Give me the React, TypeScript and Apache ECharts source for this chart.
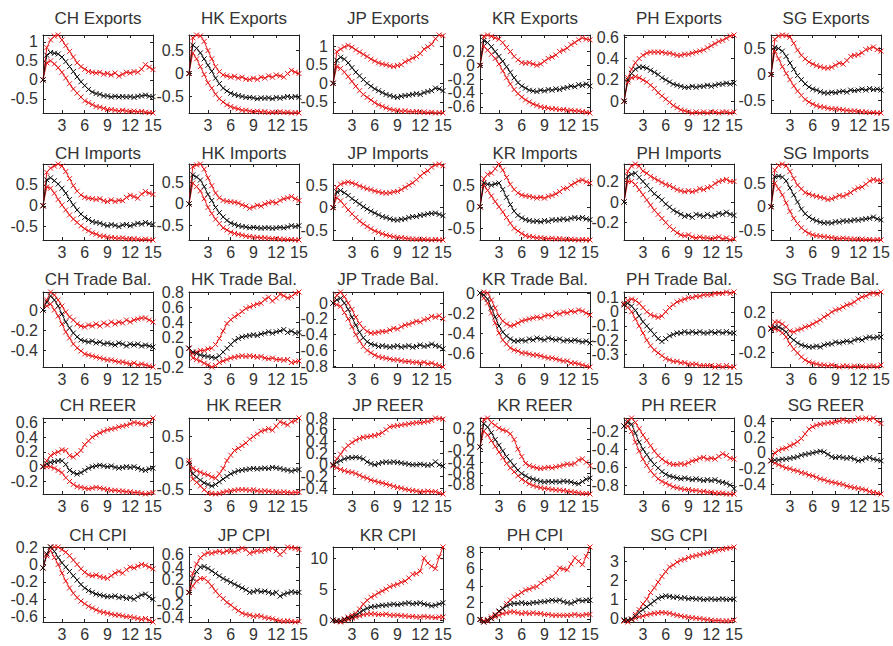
import React, { useEffect, useRef } from "react";
import * as echarts from "echarts";

// Horizon (x values) and x tick labels
const horizon = [0.5, 1, 1.5, 2, 2.5, 3, 3.5, 4, 4.5, 5, 5.5, 6, 6.5, 7, 7.5, 8, 8.5, 9, 9.5, 10, 10.5, 11, 11.5, 12, 12.5, 13, 13.5, 14, 14.5, 15];
const xTicks = [3, 6, 9, 12, 15];

// ---------- Exports ----------
const chExpTicks = [-0.5, 0, 0.5, 1];
const chExpUp = [0, 0.85, 1.05, 1.15, 1.18, 1.05, 0.9, 0.75, 0.6, 0.45, 0.35, 0.28, 0.22, 0.2, 0.18, 0.2, 0.15, 0.17, 0.13, 0.18, 0.1, 0.15, 0.2, 0.18, 0.22, 0.2, 0.28, 0.4, 0.33, 0.27];
const chExpMed = [0, 0.65, 0.72, 0.7, 0.68, 0.6, 0.48, 0.35, 0.22, 0.08, -0.05, -0.15, -0.25, -0.32, -0.36, -0.38, -0.42, -0.42, -0.45, -0.43, -0.45, -0.44, -0.45, -0.44, -0.46, -0.43, -0.42, -0.4, -0.43, -0.44];
const chExpLo = [0, 0.45, 0.5, 0.42, 0.32, 0.2, 0.05, -0.1, -0.24, -0.35, -0.45, -0.55, -0.6, -0.65, -0.7, -0.72, -0.75, -0.78, -0.78, -0.8, -0.82, -0.8, -0.82, -0.83, -0.82, -0.84, -0.83, -0.85, -0.86, -0.87];

const hkExpTicks = [-0.5, 0, 0.5];
const hkExpUp = [0, 0.78, 0.84, 0.82, 0.7, 0.5, 0.32, 0.15, 0.04, -0.03, -0.05, -0.08, -0.06, -0.1, -0.08, -0.12, -0.13, -0.1, -0.13, -0.08, -0.1, -0.05, -0.08, -0.03, -0.05, -0.08, 0.0, 0.07, 0.03, 0.0];
const hkExpMed = [0, 0.62, 0.55, 0.45, 0.32, 0.18, 0.05, -0.1, -0.22, -0.32, -0.38, -0.43, -0.46, -0.48, -0.5, -0.52, -0.52, -0.53, -0.55, -0.53, -0.54, -0.53, -0.55, -0.52, -0.54, -0.52, -0.5, -0.52, -0.5, -0.52];
const hkExpLo = [0, 0.45, 0.32, 0.15, -0.02, -0.2, -0.32, -0.45, -0.55, -0.62, -0.68, -0.72, -0.75, -0.77, -0.8, -0.8, -0.82, -0.83, -0.82, -0.84, -0.83, -0.85, -0.84, -0.85, -0.83, -0.85, -0.84, -0.86, -0.85, -0.86];

const jpExpTicks = [-0.5, 0, 0.5, 1];
const jpExpUp = [0, 0.85, 0.92, 0.98, 1.02, 0.97, 0.9, 0.84, 0.78, 0.72, 0.65, 0.6, 0.55, 0.52, 0.5, 0.47, 0.45, 0.48, 0.5, 0.58, 0.62, 0.68, 0.72, 0.8, 0.92, 0.98, 1.05, 1.2, 1.3, 1.28];
const jpExpMed = [0, 0.62, 0.7, 0.65, 0.55, 0.42, 0.3, 0.2, 0.1, 0.0, -0.08, -0.15, -0.2, -0.25, -0.3, -0.33, -0.36, -0.38, -0.35, -0.33, -0.32, -0.3, -0.28, -0.3, -0.25, -0.22, -0.2, -0.13, -0.15, -0.2];
const jpExpLo = [0, 0.45, 0.4, 0.3, 0.18, 0.05, -0.08, -0.2, -0.3, -0.38, -0.45, -0.52, -0.58, -0.62, -0.66, -0.7, -0.72, -0.73, -0.75, -0.74, -0.76, -0.77, -0.76, -0.78, -0.77, -0.79, -0.78, -0.8, -0.79, -0.8];

const krExpTicks = [-0.6, -0.4, -0.2, 0, 0.2];
const krExpUp = [0, 0.42, 0.44, 0.42, 0.4, 0.38, 0.33, 0.26, 0.2, 0.13, 0.08, 0.04, 0.03, 0.04, 0.02, 0.0, 0.02, 0.06, 0.1, 0.12, 0.15, 0.2, 0.22, 0.25, 0.3, 0.33, 0.37, 0.4, 0.38, 0.37];
const krExpMed = [0, 0.36, 0.33, 0.27, 0.2, 0.13, 0.06, -0.02, -0.1, -0.18, -0.25, -0.3, -0.33, -0.36, -0.37, -0.38, -0.36, -0.37, -0.35, -0.36, -0.34, -0.35, -0.33, -0.32, -0.3, -0.31, -0.28, -0.29, -0.27, -0.3];
const krExpLo = [0, 0.28, 0.22, 0.16, 0.1, 0.02, -0.08, -0.18, -0.27, -0.35, -0.41, -0.46, -0.5, -0.53, -0.56, -0.58, -0.6, -0.61, -0.62, -0.63, -0.63, -0.64, -0.64, -0.65, -0.65, -0.66, -0.66, -0.67, -0.68, -0.69];

const phExpTicks = [0, 0.2, 0.4, 0.6];
const phExpUp = [0, 0.22, 0.3, 0.36, 0.4, 0.43, 0.45, 0.46, 0.46, 0.46, 0.46, 0.45, 0.45, 0.44, 0.43, 0.43, 0.44, 0.44, 0.45, 0.46, 0.47, 0.48, 0.5, 0.52, 0.54, 0.56, 0.57, 0.59, 0.61, 0.62];
const phExpMed = [0, 0.2, 0.26, 0.3, 0.32, 0.32, 0.31, 0.29, 0.27, 0.25, 0.22, 0.2, 0.18, 0.16, 0.15, 0.14, 0.13, 0.13, 0.14, 0.13, 0.14, 0.14, 0.15, 0.14, 0.15, 0.16, 0.16, 0.17, 0.16, 0.17];
const phExpLo = [0, 0.18, 0.22, 0.23, 0.22, 0.2, 0.18, 0.15, 0.12, 0.08, 0.05, 0.02, -0.01, -0.04, -0.06, -0.08, -0.09, -0.1, -0.11, -0.1, -0.11, -0.1, -0.11, -0.1, -0.1, -0.11, -0.1, -0.1, -0.11, -0.1];

const sgExpTicks = [-0.5, 0, 0.5];
const sgExpUp = [0, 0.68, 0.74, 0.76, 0.75, 0.72, 0.6, 0.47, 0.37, 0.3, 0.24, 0.2, 0.17, 0.15, 0.13, 0.12, 0.14, 0.18, 0.22, 0.2, 0.27, 0.35, 0.37, 0.38, 0.42, 0.48, 0.5, 0.53, 0.48, 0.45];
const sgExpMed = [0, 0.52, 0.5, 0.45, 0.35, 0.22, 0.1, -0.02, -0.1, -0.18, -0.24, -0.28, -0.3, -0.33, -0.35, -0.36, -0.34, -0.35, -0.33, -0.32, -0.34, -0.3, -0.31, -0.3, -0.28, -0.3, -0.27, -0.29, -0.28, -0.3];
const sgExpLo = [0, 0.45, 0.3, 0.15, 0.02, -0.1, -0.22, -0.32, -0.4, -0.48, -0.53, -0.57, -0.6, -0.62, -0.63, -0.65, -0.66, -0.66, -0.67, -0.68, -0.69, -0.7, -0.7, -0.71, -0.72, -0.72, -0.73, -0.73, -0.74, -0.74];

// ---------- Imports ----------
const chImpTicks = [-0.5, 0, 0.5];
const chImpUp = [0, 0.8, 0.9, 0.95, 1.0, 0.95, 0.82, 0.65, 0.48, 0.35, 0.26, 0.2, 0.18, 0.17, 0.15, 0.17, 0.12, 0.1, 0.14, 0.1, 0.13, 0.12, 0.2, 0.25, 0.22, 0.18, 0.28, 0.34, 0.3, 0.27];
const chImpMed = [0, 0.62, 0.67, 0.6, 0.52, 0.42, 0.3, 0.15, 0.02, -0.1, -0.2, -0.28, -0.33, -0.38, -0.4, -0.42, -0.45, -0.48, -0.45, -0.47, -0.5, -0.46, -0.45, -0.48, -0.45, -0.42, -0.44, -0.4, -0.43, -0.45];
const chImpLo = [0, 0.45, 0.42, 0.3, 0.15, 0.02, -0.1, -0.22, -0.32, -0.4, -0.48, -0.55, -0.6, -0.65, -0.68, -0.72, -0.73, -0.75, -0.76, -0.77, -0.78, -0.77, -0.79, -0.8, -0.79, -0.8, -0.81, -0.8, -0.82, -0.82];

const hkImpTicks = [-0.5, 0, 0.5];
const hkImpUp = [0, 0.86, 0.9, 0.92, 0.8, 0.6, 0.42, 0.25, 0.14, 0.08, 0.06, 0.05, 0.04, 0.02, -0.02, -0.05, -0.1, -0.07, -0.03, -0.05, 0.0, 0.03, 0.05, 0.02, 0.08, 0.12, 0.14, 0.17, 0.12, 0.08];
const hkImpMed = [0, 0.67, 0.62, 0.55, 0.4, 0.22, 0.08, -0.08, -0.2, -0.3, -0.38, -0.44, -0.47, -0.5, -0.52, -0.53, -0.55, -0.54, -0.55, -0.56, -0.55, -0.55, -0.56, -0.55, -0.54, -0.55, -0.53, -0.5, -0.52, -0.5];
const hkImpLo = [0, 0.48, 0.4, 0.3, 0.12, -0.08, -0.22, -0.35, -0.45, -0.55, -0.6, -0.65, -0.68, -0.7, -0.72, -0.74, -0.75, -0.76, -0.77, -0.78, -0.78, -0.79, -0.8, -0.8, -0.81, -0.81, -0.82, -0.82, -0.83, -0.83];

const jpImpTicks = [-0.5, 0, 0.5];
const jpImpUp = [0, 0.45, 0.52, 0.55, 0.57, 0.55, 0.52, 0.48, 0.45, 0.42, 0.4, 0.37, 0.35, 0.33, 0.32, 0.33, 0.35, 0.36, 0.4, 0.45, 0.5, 0.55, 0.62, 0.7, 0.77, 0.82, 0.9, 0.95, 0.97, 0.93];
const jpImpMed = [0, 0.35, 0.38, 0.33, 0.27, 0.2, 0.14, 0.08, 0.02, -0.03, -0.08, -0.12, -0.16, -0.2, -0.22, -0.25, -0.27, -0.28, -0.26, -0.25, -0.22, -0.2, -0.2, -0.17, -0.16, -0.14, -0.13, -0.12, -0.15, -0.18];
const jpImpLo = [0, 0.22, 0.15, 0.05, -0.05, -0.14, -0.22, -0.3, -0.36, -0.42, -0.47, -0.52, -0.55, -0.58, -0.61, -0.63, -0.65, -0.66, -0.67, -0.68, -0.69, -0.7, -0.7, -0.71, -0.7, -0.71, -0.72, -0.71, -0.72, -0.72];

const krImpTicks = [-0.5, 0, 0.5];
const krImpUp = [0, 0.65, 0.75, 0.78, 0.88, 0.99, 0.85, 0.68, 0.52, 0.4, 0.32, 0.27, 0.25, 0.24, 0.22, 0.2, 0.22, 0.2, 0.24, 0.26, 0.3, 0.35, 0.42, 0.43, 0.5, 0.55, 0.6, 0.62, 0.58, 0.55];
const krImpMed = [0, 0.55, 0.52, 0.5, 0.53, 0.55, 0.4, 0.22, 0.05, -0.1, -0.2, -0.26, -0.3, -0.32, -0.34, -0.33, -0.35, -0.32, -0.34, -0.3, -0.31, -0.3, -0.28, -0.3, -0.27, -0.25, -0.27, -0.25, -0.28, -0.3];
const krImpLo = [0, 0.5, 0.38, 0.25, 0.12, 0.0, -0.12, -0.25, -0.38, -0.5, -0.56, -0.62, -0.67, -0.69, -0.7, -0.72, -0.72, -0.73, -0.74, -0.73, -0.75, -0.74, -0.75, -0.76, -0.75, -0.76, -0.77, -0.76, -0.77, -0.77];

const phImpTicks = [-0.2, 0, 0.2];
const phImpUp = [0, 0.3, 0.35, 0.37, 0.35, 0.3, 0.28, 0.25, 0.23, 0.21, 0.19, 0.17, 0.16, 0.14, 0.12, 0.11, 0.1, 0.11, 0.1, 0.11, 0.13, 0.12, 0.14, 0.15, 0.18, 0.2, 0.21, 0.22, 0.2, 0.2];
const phImpMed = [0, 0.25, 0.27, 0.28, 0.24, 0.2, 0.16, 0.12, 0.08, 0.05, 0.02, -0.02, -0.05, -0.08, -0.1, -0.12, -0.14, -0.13, -0.15, -0.12, -0.13, -0.14, -0.12, -0.14, -0.13, -0.11, -0.12, -0.1, -0.12, -0.13];
const phImpLo = [0, 0.2, 0.2, 0.17, 0.12, 0.07, 0.02, -0.03, -0.08, -0.12, -0.16, -0.2, -0.24, -0.27, -0.3, -0.32, -0.33, -0.32, -0.34, -0.35, -0.34, -0.35, -0.35, -0.36, -0.35, -0.34, -0.36, -0.35, -0.37, -0.36];

const sgImpTicks = [-0.5, 0, 0.5];
const sgImpUp = [0, 0.78, 0.88, 0.91, 0.87, 0.75, 0.6, 0.46, 0.38, 0.3, 0.27, 0.24, 0.22, 0.2, 0.18, 0.15, 0.17, 0.2, 0.24, 0.22, 0.26, 0.3, 0.36, 0.4, 0.42, 0.48, 0.55, 0.58, 0.56, 0.55];
const sgImpMed = [0, 0.64, 0.65, 0.63, 0.55, 0.4, 0.25, 0.1, -0.05, -0.15, -0.22, -0.27, -0.3, -0.33, -0.35, -0.34, -0.35, -0.32, -0.33, -0.3, -0.31, -0.3, -0.28, -0.29, -0.27, -0.26, -0.25, -0.22, -0.26, -0.28];
const sgImpLo = [0, 0.5, 0.38, 0.25, 0.08, -0.1, -0.25, -0.36, -0.45, -0.52, -0.57, -0.6, -0.62, -0.63, -0.64, -0.65, -0.66, -0.67, -0.68, -0.67, -0.68, -0.69, -0.69, -0.7, -0.69, -0.7, -0.7, -0.71, -0.7, -0.71];

// ---------- Trade balance ----------
const chTbTicks = [-0.4, -0.2, 0];
const chTbUp = [0, 0.1, 0.18, 0.15, 0.1, 0.04, -0.02, -0.07, -0.1, -0.14, -0.16, -0.17, -0.15, -0.16, -0.14, -0.16, -0.13, -0.15, -0.12, -0.14, -0.12, -0.13, -0.1, -0.12, -0.1, -0.09, -0.08, -0.08, -0.1, -0.12];
const chTbMed = [0, 0.08, 0.14, 0.1, 0.04, -0.04, -0.12, -0.18, -0.23, -0.27, -0.3, -0.31, -0.32, -0.31, -0.33, -0.32, -0.34, -0.33, -0.34, -0.35, -0.33, -0.34, -0.36, -0.34, -0.35, -0.34, -0.36, -0.35, -0.36, -0.37];
const chTbLo = [0, 0.04, 0.06, 0.0, -0.06, -0.14, -0.22, -0.28, -0.34, -0.38, -0.41, -0.44, -0.45, -0.46, -0.47, -0.48, -0.49, -0.5, -0.5, -0.51, -0.52, -0.52, -0.53, -0.54, -0.53, -0.55, -0.54, -0.55, -0.56, -0.57];

const hkTbTicks = [-0.2, 0, 0.2, 0.4, 0.6, 0.8];
const hkTbUp = [0.05, -0.02, 0.0, 0.02, 0.02, 0.04, 0.05, 0.1, 0.18, 0.28, 0.38, 0.43, 0.47, 0.5, 0.54, 0.58, 0.6, 0.62, 0.64, 0.65, 0.7, 0.73, 0.68, 0.72, 0.77, 0.75, 0.72, 0.74, 0.78, 0.8];
const hkTbMed = [0.05, 0.0, -0.02, -0.04, -0.05, -0.06, -0.07, -0.08, -0.05, 0.0, 0.05, 0.1, 0.15, 0.18, 0.2, 0.21, 0.22, 0.23, 0.22, 0.24, 0.25, 0.27, 0.25, 0.27, 0.28, 0.3, 0.26, 0.28, 0.25, 0.26];
const hkTbLo = [0.05, -0.08, -0.1, -0.12, -0.15, -0.17, -0.2, -0.18, -0.14, -0.12, -0.1, -0.08, -0.07, -0.06, -0.05, -0.06, -0.05, -0.06, -0.07, -0.06, -0.08, -0.09, -0.08, -0.1, -0.1, -0.11, -0.1, -0.14, -0.13, -0.12];

const jpTbTicks = [-0.8, -0.6, -0.4, -0.2, 0];
const jpTbUp = [0, 0.1, 0.14, 0.08, 0.0, -0.08, -0.18, -0.26, -0.32, -0.36, -0.38, -0.38, -0.37, -0.36, -0.36, -0.34, -0.32, -0.33, -0.3, -0.28, -0.27, -0.25, -0.23, -0.24, -0.21, -0.2, -0.17, -0.18, -0.16, -0.2];
const jpTbMed = [0, 0.04, 0.06, 0.0, -0.08, -0.18, -0.28, -0.37, -0.44, -0.49, -0.52, -0.53, -0.55, -0.54, -0.55, -0.56, -0.55, -0.54, -0.56, -0.55, -0.54, -0.56, -0.55, -0.53, -0.55, -0.54, -0.52, -0.54, -0.55, -0.58];
const jpTbLo = [0, -0.02, -0.04, -0.12, -0.2, -0.3, -0.4, -0.48, -0.55, -0.6, -0.63, -0.66, -0.68, -0.69, -0.7, -0.71, -0.72, -0.72, -0.73, -0.74, -0.74, -0.75, -0.75, -0.76, -0.75, -0.77, -0.76, -0.78, -0.79, -0.81];

const krTbTicks = [-0.6, -0.4, -0.2, 0];
const krTbUp = [0.0, 0.01, 0.0, -0.07, -0.15, -0.23, -0.28, -0.31, -0.33, -0.32, -0.3, -0.28, -0.27, -0.26, -0.25, -0.24, -0.25, -0.23, -0.22, -0.23, -0.2, -0.21, -0.19, -0.2, -0.18, -0.19, -0.17, -0.18, -0.2, -0.22];
const krTbMed = [0.0, -0.02, -0.06, -0.15, -0.24, -0.33, -0.39, -0.43, -0.46, -0.48, -0.48, -0.47, -0.48, -0.46, -0.47, -0.45, -0.46, -0.47, -0.45, -0.46, -0.47, -0.46, -0.48, -0.47, -0.48, -0.47, -0.48, -0.49, -0.48, -0.5];
const krTbLo = [0.0, -0.05, -0.1, -0.2, -0.3, -0.4, -0.47, -0.51, -0.55, -0.57, -0.58, -0.6, -0.6, -0.61, -0.62, -0.62, -0.63, -0.64, -0.65, -0.65, -0.66, -0.67, -0.68, -0.68, -0.7, -0.7, -0.71, -0.72, -0.73, -0.74];

const phTbTicks = [-0.3, -0.2, -0.1, 0, 0.1];
const phTbUp = [0.06, 0.08, 0.09, 0.08, 0.06, 0.03, 0.0, -0.02, -0.03, -0.04, -0.03, 0.0, 0.03, 0.05, 0.07, 0.08, 0.09, 0.1, 0.1, 0.11, 0.11, 0.12, 0.12, 0.12, 0.13, 0.13, 0.13, 0.14, 0.13, 0.14];
const phTbMed = [0.05, 0.06, 0.04, 0.01, -0.03, -0.07, -0.1, -0.13, -0.16, -0.19, -0.21, -0.19, -0.17, -0.16, -0.15, -0.15, -0.14, -0.15, -0.14, -0.15, -0.14, -0.15, -0.15, -0.14, -0.15, -0.14, -0.15, -0.14, -0.15, -0.15];
const phTbLo = [0.05, 0.03, 0.0, -0.05, -0.1, -0.15, -0.2, -0.24, -0.27, -0.29, -0.31, -0.33, -0.34, -0.35, -0.35, -0.36, -0.36, -0.37, -0.37, -0.37, -0.38, -0.38, -0.38, -0.38, -0.39, -0.38, -0.39, -0.38, -0.39, -0.39];

const sgTbTicks = [-0.2, 0, 0.2];
const sgTbUp = [0.04, 0.1, 0.1, 0.08, 0.05, 0.01, 0.0, 0.02, 0.03, 0.05, 0.06, 0.08, 0.1, 0.12, 0.15, 0.17, 0.2, 0.22, 0.23, 0.25, 0.27, 0.28, 0.3, 0.33, 0.35, 0.36, 0.38, 0.39, 0.38, 0.4];
const sgTbMed = [0.03, 0.05, 0.05, 0.03, 0.0, -0.05, -0.08, -0.11, -0.13, -0.14, -0.15, -0.15, -0.14, -0.15, -0.13, -0.12, -0.12, -0.1, -0.11, -0.1, -0.09, -0.1, -0.08, -0.07, -0.08, -0.06, -0.05, -0.06, -0.05, -0.05];
const sgTbLo = [0.03, 0.03, 0.02, -0.01, -0.05, -0.12, -0.17, -0.21, -0.25, -0.28, -0.3, -0.31, -0.32, -0.33, -0.33, -0.34, -0.33, -0.34, -0.35, -0.34, -0.34, -0.35, -0.34, -0.35, -0.34, -0.35, -0.34, -0.34, -0.35, -0.33];

// ---------- REER ----------
const chReTicks = [-0.2, 0, 0.2, 0.4, 0.6];
const chReUp = [0.0, 0.08, 0.15, 0.18, 0.2, 0.23, 0.22, 0.15, 0.13, 0.17, 0.22, 0.3, 0.35, 0.4, 0.43, 0.46, 0.48, 0.5, 0.51, 0.52, 0.54, 0.55, 0.56, 0.58, 0.6, 0.59, 0.58, 0.57, 0.6, 0.66];
const chReMed = [0.0, 0.04, 0.06, 0.07, 0.08, 0.08, 0.03, -0.05, -0.08, -0.1, -0.08, -0.05, -0.02, 0.0, 0.01, 0.02, 0.01, 0.0, 0.01, -0.01, -0.02, -0.01, 0.0, -0.01, 0.0, -0.02, -0.04, -0.05, -0.03, -0.02];
const chReLo = [0.0, 0.0, 0.0, -0.02, -0.05, -0.08, -0.15, -0.2, -0.24, -0.27, -0.28, -0.29, -0.3, -0.29, -0.28, -0.29, -0.3, -0.31, -0.32, -0.32, -0.33, -0.33, -0.34, -0.34, -0.35, -0.35, -0.36, -0.37, -0.36, -0.35];

const hkReTicks = [-0.5, 0, 0.5];
const hkReUp = [0.05, -0.1, -0.14, -0.17, -0.2, -0.22, -0.26, -0.28, -0.2, -0.1, 0.05, 0.15, 0.24, 0.28, 0.33, 0.38, 0.45, 0.5, 0.55, 0.6, 0.62, 0.65, 0.62, 0.7, 0.78, 0.75, 0.72, 0.78, 0.8, 0.85];
const hkReMed = [0.0, -0.2, -0.26, -0.32, -0.37, -0.4, -0.43, -0.4, -0.35, -0.3, -0.25, -0.2, -0.17, -0.14, -0.13, -0.12, -0.11, -0.1, -0.11, -0.1, -0.09, -0.1, -0.08, -0.09, -0.1, -0.12, -0.13, -0.15, -0.13, -0.12];
const hkReLo = [0.0, -0.3, -0.36, -0.43, -0.5, -0.56, -0.57, -0.58, -0.57, -0.55, -0.53, -0.52, -0.51, -0.5, -0.5, -0.5, -0.51, -0.5, -0.52, -0.53, -0.52, -0.53, -0.54, -0.54, -0.55, -0.54, -0.55, -0.56, -0.55, -0.55];

const jpReTicks = [-0.4, -0.2, 0, 0.2, 0.4, 0.6, 0.8];
const jpReUp = [-0.02, 0.1, 0.18, 0.27, 0.33, 0.38, 0.42, 0.45, 0.47, 0.48, 0.49, 0.5, 0.52, 0.55, 0.6, 0.65, 0.66, 0.67, 0.68, 0.69, 0.7, 0.71, 0.72, 0.72, 0.73, 0.74, 0.76, 0.8, 0.79, 0.78];
const jpReMed = [0.0, 0.04, 0.07, 0.1, 0.12, 0.12, 0.13, 0.12, 0.1, 0.05, 0.02, 0.0, 0.02, 0.04, 0.05, 0.04, 0.05, 0.04, 0.03, 0.02, 0.01, 0.0, 0.0, 0.01, 0.0, -0.01, 0.0, 0.05, 0.0, -0.02];
const jpReLo = [0.0, -0.05, -0.08, -0.1, -0.12, -0.13, -0.15, -0.18, -0.21, -0.23, -0.26, -0.28, -0.3, -0.31, -0.33, -0.35, -0.37, -0.39, -0.4, -0.42, -0.43, -0.44, -0.45, -0.46, -0.46, -0.45, -0.46, -0.46, -0.48, -0.5];

const krReTicks = [-0.8, -0.6, -0.4, -0.2, 0, 0.2, 0.4];
const krReUp = [-0.13, 0.35, 0.38, 0.3, 0.25, 0.2, 0.17, 0.15, 0.1, 0.0, -0.17, -0.3, -0.42, -0.46, -0.48, -0.5, -0.51, -0.5, -0.49, -0.5, -0.48, -0.47, -0.45, -0.43, -0.44, -0.42, -0.36, -0.34, -0.4, -0.46];
const krReMed = [-0.13, 0.28, 0.22, 0.12, 0.0, -0.1, -0.2, -0.3, -0.38, -0.46, -0.54, -0.6, -0.64, -0.68, -0.7, -0.72, -0.74, -0.75, -0.74, -0.75, -0.74, -0.75, -0.73, -0.74, -0.75, -0.77, -0.78, -0.74, -0.7, -0.68];
const krReLo = [-0.13, 0.15, 0.08, -0.02, -0.12, -0.22, -0.32, -0.42, -0.5, -0.57, -0.64, -0.7, -0.74, -0.78, -0.81, -0.83, -0.85, -0.86, -0.87, -0.88, -0.89, -0.89, -0.9, -0.91, -0.92, -0.93, -0.94, -0.95, -0.95, -0.96];

const phReTicks = [-0.8, -0.6, -0.4, -0.2];
const phReUp = [-0.14, -0.08, -0.05, -0.1, -0.17, -0.24, -0.3, -0.36, -0.42, -0.47, -0.51, -0.54, -0.56, -0.57, -0.57, -0.56, -0.57, -0.55, -0.53, -0.52, -0.5, -0.49, -0.51, -0.5, -0.51, -0.48, -0.45, -0.47, -0.5, -0.51];
const phReMed = [-0.14, -0.1, -0.12, -0.22, -0.32, -0.4, -0.46, -0.52, -0.57, -0.61, -0.65, -0.68, -0.7, -0.71, -0.72, -0.73, -0.72, -0.73, -0.74, -0.73, -0.74, -0.75, -0.74, -0.75, -0.74, -0.76, -0.77, -0.78, -0.8, -0.84];
const phReLo = [-0.14, -0.14, -0.2, -0.32, -0.42, -0.51, -0.58, -0.64, -0.69, -0.73, -0.76, -0.78, -0.8, -0.82, -0.83, -0.84, -0.85, -0.85, -0.86, -0.86, -0.87, -0.87, -0.88, -0.88, -0.89, -0.89, -0.89, -0.9, -0.9, -0.9];

const sgReTicks = [-0.4, -0.2, 0, 0.2, 0.4];
const sgReUp = [-0.1, 0.0, 0.03, 0.05, 0.06, 0.09, 0.11, 0.14, 0.18, 0.24, 0.3, 0.33, 0.35, 0.36, 0.37, 0.38, 0.38, 0.39, 0.4, 0.42, 0.4, 0.4, 0.41, 0.44, 0.43, 0.44, 0.42, 0.44, 0.4, 0.37];
const sgReMed = [-0.1, -0.09, -0.09, -0.08, -0.08, -0.07, -0.06, -0.05, -0.03, -0.02, -0.01, 0.0, 0.01, 0.02, 0.01, -0.02, -0.05, -0.06, -0.05, -0.06, -0.07, -0.06, -0.08, -0.1, -0.09, -0.07, -0.06, -0.08, -0.09, -0.1];
const sgReLo = [-0.1, -0.13, -0.15, -0.17, -0.19, -0.2, -0.22, -0.23, -0.25, -0.26, -0.28, -0.29, -0.31, -0.33, -0.34, -0.36, -0.37, -0.38, -0.39, -0.4, -0.42, -0.43, -0.44, -0.45, -0.46, -0.47, -0.49, -0.5, -0.51, -0.52];

// ---------- CPI ----------
const chCpiTicks = [-0.6, -0.4, -0.2, 0, 0.2];
const chCpiUp = [-0.04, 0.12, 0.2, 0.2, 0.2, 0.17, 0.14, 0.1, 0.05, 0.0, -0.05, -0.09, -0.12, -0.13, -0.12, -0.14, -0.15, -0.16, -0.13, -0.1, -0.08, -0.1, -0.06, -0.03, -0.04, -0.02, 0.0, -0.01, -0.03, -0.05];
const chCpiMed = [-0.04, 0.12, 0.2, 0.15, 0.08, 0.02, -0.03, -0.08, -0.13, -0.18, -0.23, -0.27, -0.3, -0.32, -0.34, -0.35, -0.36, -0.37, -0.37, -0.36, -0.38, -0.37, -0.39, -0.38, -0.4, -0.37, -0.35, -0.34, -0.37, -0.4];
const chCpiLo = [-0.04, 0.1, 0.16, 0.08, 0.0, -0.1, -0.19, -0.27, -0.33, -0.38, -0.42, -0.45, -0.48, -0.5, -0.52, -0.54, -0.55, -0.56, -0.57, -0.58, -0.58, -0.59, -0.6, -0.6, -0.61, -0.62, -0.63, -0.62, -0.64, -0.66];

const jpCpiTicks = [-0.4, -0.2, 0, 0.2, 0.4, 0.6];
const jpCpiUp = [0.0, 0.3, 0.45, 0.55, 0.6, 0.63, 0.62, 0.64, 0.65, 0.63, 0.66, 0.65, 0.64, 0.67, 0.7, 0.68, 0.62, 0.64, 0.66, 0.65, 0.67, 0.68, 0.7, 0.66, 0.6, 0.65, 0.72, 0.71, 0.7, 0.68];
const jpCpiMed = [0.0, 0.22, 0.33, 0.4, 0.41, 0.38, 0.34, 0.3, 0.26, 0.22, 0.19, 0.16, 0.13, 0.1, 0.07, 0.04, 0.0, 0.01, 0.03, 0.01, 0.02, 0.0, -0.02, 0.0, -0.06, -0.03, -0.01, 0.01, 0.0, 0.0];
const jpCpiLo = [0.0, 0.1, 0.18, 0.22, 0.22, 0.17, 0.1, 0.02, -0.05, -0.1, -0.16, -0.2, -0.25, -0.29, -0.33, -0.35, -0.36, -0.38, -0.37, -0.38, -0.4, -0.41, -0.42, -0.44, -0.45, -0.46, -0.45, -0.46, -0.47, -0.46];

const krCpiTicks = [0, 5, 10];
const krCpiUp = [0.0, -0.1, -0.2, 0.2, 0.5, 0.8, 1.1, 1.8, 2.6, 3.2, 3.7, 4.0, 4.4, 4.7, 5.0, 5.4, 5.6, 5.8, 6.1, 6.3, 6.8, 7.4, 7.5, 7.9, 10.0, 9.2, 8.7, 8.3, 10.2, 11.8];
const krCpiMed = [0.0, -0.1, -0.1, 0.1, 0.3, 0.5, 0.8, 1.2, 1.6, 1.9, 2.1, 2.2, 2.3, 2.4, 2.4, 2.5, 2.6, 2.5, 2.6, 2.7, 2.8, 2.6, 2.7, 2.8, 2.6, 2.5, 2.3, 2.4, 2.6, 2.8];
const krCpiLo = [0.0, -0.2, -0.3, -0.1, 0.1, 0.3, 0.5, 0.7, 0.9, 1.0, 1.0, 1.0, 0.9, 0.9, 1.0, 0.8, 0.8, 0.8, 0.7, 0.7, 0.6, 0.6, 0.5, 0.5, 0.6, 0.5, 0.5, 0.4, 0.5, 0.5];

const phCpiTicks = [0, 2, 4, 6, 8];
const phCpiUp = [0.0, -0.15, 0.0, 0.3, 0.6, 0.9, 1.3, 1.9, 2.3, 2.7, 2.9, 3.2, 3.5, 3.6, 3.8, 3.9, 4.3, 4.6, 4.9, 5.1, 5.5, 6.1, 6.0, 5.9, 6.6, 7.3, 6.9, 6.5, 7.5, 8.6];
const phCpiMed = [0.0, -0.3, -0.1, 0.1, 0.5, 1.0, 1.3, 1.6, 1.8, 1.9, 1.9, 2.0, 1.9, 1.9, 2.0, 2.0, 2.1, 2.1, 2.2, 2.3, 2.2, 2.3, 2.1, 2.0, 1.9, 2.1, 2.3, 2.2, 2.3, 2.3];
const phCpiLo = [0.0, -0.3, -0.2, 0.1, 0.3, 0.5, 0.7, 0.8, 0.9, 0.9, 0.8, 0.7, 0.8, 0.7, 0.8, 0.7, 0.7, 0.6, 0.6, 0.5, 0.5, 0.5, 0.5, 0.5, 0.5, 0.6, 0.5, 0.5, 0.6, 0.6];

const sgCpiTicks = [0, 1, 2, 3];
const sgCpiUp = [-0.15, -0.2, -0.05, 0.2, 0.45, 0.75, 1.0, 1.35, 1.6, 1.9, 2.2, 2.45, 2.7, 2.8, 2.95, 3.05, 3.1, 3.2, 3.25, 3.3, 3.35, 3.4, 3.45, 3.5, 3.55, 3.6, 3.62, 3.68, 3.7, 3.75];
const sgCpiMed = [-0.1, -0.1, -0.05, 0.1, 0.3, 0.45, 0.6, 0.75, 0.9, 1.05, 1.12, 1.18, 1.15, 1.1, 1.12, 1.05, 1.08, 1.02, 1.05, 1.0, 1.03, 0.98, 1.0, 1.02, 0.98, 1.0, 1.02, 0.99, 1.0, 1.0];
const sgCpiLo = [-0.1, -0.12, -0.08, 0.0, 0.08, 0.12, 0.18, 0.22, 0.26, 0.28, 0.3, 0.28, 0.26, 0.2, 0.15, 0.12, 0.08, 0.05, 0.02, 0.0, -0.02, -0.05, -0.08, -0.1, -0.12, -0.12, -0.15, -0.14, -0.15, -0.1];

const panels = [
  { title: "CH Exports", ticks: chExpTicks, up: chExpUp, med: chExpMed, lo: chExpLo },
  { title: "HK Exports", ticks: hkExpTicks, up: hkExpUp, med: hkExpMed, lo: hkExpLo },
  { title: "JP Exports", ticks: jpExpTicks, up: jpExpUp, med: jpExpMed, lo: jpExpLo },
  { title: "KR Exports", ticks: krExpTicks, up: krExpUp, med: krExpMed, lo: krExpLo },
  { title: "PH Exports", ticks: phExpTicks, up: phExpUp, med: phExpMed, lo: phExpLo },
  { title: "SG Exports", ticks: sgExpTicks, up: sgExpUp, med: sgExpMed, lo: sgExpLo },
  { title: "CH Imports", ticks: chImpTicks, up: chImpUp, med: chImpMed, lo: chImpLo },
  { title: "HK Imports", ticks: hkImpTicks, up: hkImpUp, med: hkImpMed, lo: hkImpLo },
  { title: "JP Imports", ticks: jpImpTicks, up: jpImpUp, med: jpImpMed, lo: jpImpLo },
  { title: "KR Imports", ticks: krImpTicks, up: krImpUp, med: krImpMed, lo: krImpLo },
  { title: "PH Imports", ticks: phImpTicks, up: phImpUp, med: phImpMed, lo: phImpLo },
  { title: "SG Imports", ticks: sgImpTicks, up: sgImpUp, med: sgImpMed, lo: sgImpLo },
  { title: "CH Trade Bal.", ticks: chTbTicks, up: chTbUp, med: chTbMed, lo: chTbLo },
  { title: "HK Trade Bal.", ticks: hkTbTicks, up: hkTbUp, med: hkTbMed, lo: hkTbLo },
  { title: "JP Trade Bal.", ticks: jpTbTicks, up: jpTbUp, med: jpTbMed, lo: jpTbLo },
  { title: "KR Trade Bal.", ticks: krTbTicks, up: krTbUp, med: krTbMed, lo: krTbLo },
  { title: "PH Trade Bal.", ticks: phTbTicks, up: phTbUp, med: phTbMed, lo: phTbLo },
  { title: "SG Trade Bal.", ticks: sgTbTicks, up: sgTbUp, med: sgTbMed, lo: sgTbLo },
  { title: "CH REER", ticks: chReTicks, up: chReUp, med: chReMed, lo: chReLo },
  { title: "HK REER", ticks: hkReTicks, up: hkReUp, med: hkReMed, lo: hkReLo },
  { title: "JP REER", ticks: jpReTicks, up: jpReUp, med: jpReMed, lo: jpReLo },
  { title: "KR REER", ticks: krReTicks, up: krReUp, med: krReMed, lo: krReLo },
  { title: "PH REER", ticks: phReTicks, up: phReUp, med: phReMed, lo: phReLo },
  { title: "SG REER", ticks: sgReTicks, up: sgReUp, med: sgReMed, lo: sgReLo },
  { title: "CH CPI", ticks: chCpiTicks, up: chCpiUp, med: chCpiMed, lo: chCpiLo },
  { title: "JP CPI", ticks: jpCpiTicks, up: jpCpiUp, med: jpCpiMed, lo: jpCpiLo },
  { title: "KR CPI", ticks: krCpiTicks, up: krCpiUp, med: krCpiMed, lo: krCpiLo },
  { title: "PH CPI", ticks: phCpiTicks, up: phCpiUp, med: phCpiMed, lo: phCpiLo },
  { title: "SG CPI", ticks: sgCpiTicks, up: sgCpiUp, med: sgCpiMed, lo: sgCpiLo },
];

// Layout (pixels)
const colLeft = [43, 189, 333, 480, 624, 771];
const boxW = 110;
const rowTop = [35, 164, 292, 418, 547];
const rowH = [78, 76, 75, 76, 75];
const titleY = [18, 153, 279, 405, 535];

const FONT = '"Liberation Sans", Arial, Helvetica, sans-serif';
const TEXT = "#333";
const AXIS = "#222";
const RED = "#e8191a";
const BLACK = "#111";
const XMARK = "path://M0,0L10,10M10,0L0,10";

function buildOption() {
  const grid: any[] = [];
  const xAxis: any[] = [];
  const yAxis: any[] = [];
  const series: any[] = [];
  const graphic: any[] = [];

  panels.forEach((p, i) => {
    const r = Math.floor(i / 6);
    const c = i % 6;
    const left = colLeft[c];
    const top = rowTop[r];
    const h = rowH[r];
    grid.push({ left, top, width: boxW, height: h, show: false, containLabel: false, outerBoundsMode: "none" });

    const all = [...p.up, ...p.med, ...p.lo];
    const ymin = Math.min(...all);
    const ymax = Math.max(...all);

    const line = { show: true, onZero: false, lineStyle: { color: AXIS, width: 1 } };
    const labelStyle = {
      fontSize: 16,
      color: TEXT,
      fontFamily: FONT,
      showMinLabel: true,
      showMaxLabel: true,
      hideOverlap: false,
    };
    const fmt = (v: number) => String(v);

    // split the y labels over two coincident left axes so none gets hidden
    const evenTicks = p.ticks.filter((_, k) => k % 2 === 0);
    const oddTicks = p.ticks.filter((_, k) => k % 2 === 1);

    xAxis.push({
      type: "value", gridIndex: i, min: 0.5, max: 15, position: "bottom",
      axisLine: line,
      axisTick: { show: true, inside: true, length: 3, customValues: xTicks, lineStyle: { color: AXIS } },
      axisLabel: { show: true, customValues: xTicks, margin: 4, ...labelStyle, formatter: fmt },
      splitLine: { show: false },
    });
    xAxis.push({
      type: "value", gridIndex: i, min: 0.5, max: 15, position: "top",
      axisLine: line,
      axisTick: { show: true, inside: true, length: 3, customValues: xTicks, lineStyle: { color: AXIS } },
      axisLabel: { show: false },
      splitLine: { show: false },
    });
    yAxis.push({
      type: "value", gridIndex: i, min: ymin, max: ymax, position: "left",
      axisLine: line,
      axisTick: { show: true, inside: true, length: 3, customValues: p.ticks, lineStyle: { color: AXIS } },
      axisLabel: { show: true, customValues: evenTicks, margin: 5, ...labelStyle, formatter: fmt },
      splitLine: { show: false },
    });
    yAxis.push({
      type: "value", gridIndex: i, min: ymin, max: ymax, position: "right",
      axisLine: line,
      axisTick: { show: true, inside: true, length: 3, customValues: p.ticks, lineStyle: { color: AXIS } },
      axisLabel: { show: false },
      splitLine: { show: false },
    });
    yAxis.push({
      type: "value", gridIndex: i, min: ymin, max: ymax, position: "left", offset: 0,
      axisLine: { show: false },
      axisTick: { show: false },
      axisLabel: { show: oddTicks.length > 0, customValues: oddTicks, margin: 5, ...labelStyle, formatter: fmt },
      splitLine: { show: false },
    });

    const mk = (arr: number[], color: string) => ({
      type: "line",
      xAxisIndex: 2 * i,
      yAxisIndex: 3 * i,
      data: horizon.map((x, j) => [x, arr[j]]),
      symbol: XMARK,
      symbolSize: 5,
      showSymbol: true,
      silent: true,
      lineStyle: { color, width: 1 },
      itemStyle: { color, borderColor: color, borderWidth: 1 },
      emphasis: { disabled: true },
    });
    series.push(mk(p.up, RED), mk(p.lo, RED), mk(p.med, BLACK));

    graphic.push({
      type: "text",
      x: left + boxW / 2,
      y: titleY[r],
      style: {
        text: p.title,
        fill: TEXT,
        font: `17px ${FONT}`,
        textAlign: "center",
        textVerticalAlign: "middle",
      },
    });
  });

  return {
    animation: false,
    backgroundColor: "#fff",
    grid,
    xAxis,
    yAxis,
    series,
    graphic,
  };
}

export default function App() {
  const ref = useRef<HTMLDivElement>(null);
  useEffect(() => {
    if (!ref.current) return;
    const chart = echarts.init(ref.current, undefined, { renderer: "svg" });
    chart.setOption(buildOption() as any);
    return () => chart.dispose();
  }, []);
  return (
    <div
      ref={ref}
      style={{ position: "fixed", left: 0, top: 0, width: 893, height: 646, background: "#fff" }}
    />
  );
}
